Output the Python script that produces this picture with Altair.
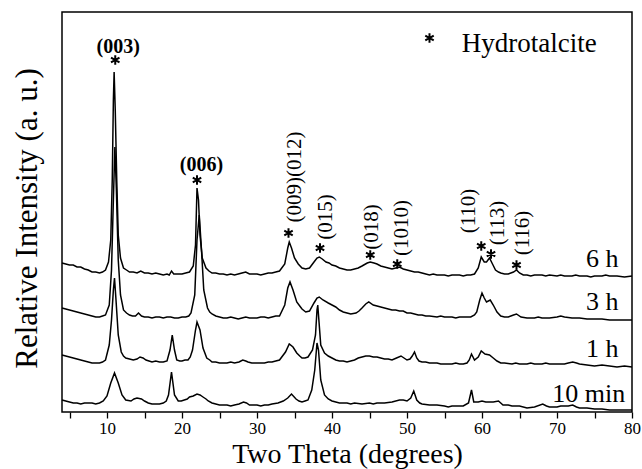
import altair as alt
import pandas as pd

# ---- XRD patterns: (2θ in degrees, relative intensity in a.u.) ----
pattern_6h = [
    (4.0, 15), (4.5, 14), (5.0, 13), (5.5, 13), (6.0, 11), (6.5, 11), (7.0, 9), (7.5, 8), (8.0, 6),
    (8.5, 6), (9.0, 5), (9.4, 6), (9.8, 8), (10.2, 16), (10.5, 38), (10.7, 98), (10.85, 178),
    (10.95, 206), (11.1, 168), (11.3, 98), (11.5, 43), (11.8, 20), (12.2, 10), (12.6, 8), (13.0, 6),
    (13.5, 6), (14.0, 5), (14.5, 7), (15.0, 5), (15.5, 5), (16.0, 4), (16.5, 5), (17.0, 4), (17.5, 3),
    (18.0, 4), (18.3, 3), (18.6, 7), (18.9, 4), (19.5, 4), (20.0, 4), (20.5, 5), (21.0, 6), (21.5, 12),
    (21.8, 33), (22.0, 90), (22.2, 78), (22.4, 43), (22.7, 20), (23.2, 10), (23.6, 7), (24.0, 5),
    (24.5, 5), (25.0, 4), (25.5, 4), (26.0, 3), (26.5, 4), (27.0, 3), (27.5, 4), (28.0, 5), (28.5, 6),
    (29.0, 4), (29.5, 4), (30.0, 4), (30.5, 3), (31.0, 4), (31.5, 5), (32.0, 5), (32.5, 6), (33.0, 7),
    (33.7, 14), (34.1, 30), (34.3, 36), (34.6, 30), (35.0, 20), (35.5, 14), (36.0, 10), (36.5, 9),
    (37.0, 10), (37.6, 16), (38.0, 20), (38.3, 21), (38.7, 19), (39.2, 16), (39.6, 15), (40.0, 13),
    (40.5, 12), (41.0, 10), (41.5, 9), (42.0, 8), (42.5, 8), (43.0, 9), (43.5, 10), (44.0, 12),
    (44.7, 15), (45.1, 16), (45.6, 15), (46.0, 14), (46.5, 12), (47.0, 11), (47.5, 10), (48.0, 9),
    (48.5, 10), (49.0, 11), (49.5, 9), (50.0, 8), (50.5, 7), (51.0, 6), (51.5, 6), (52.0, 5), (52.5, 4),
    (53.0, 3), (53.5, 4), (54.0, 3), (54.5, 3), (55.0, 3), (55.5, 2), (56.0, 3), (56.5, 3), (57.0, 3),
    (57.5, 2), (58.0, 3), (58.5, 3), (59.0, 4), (59.5, 10), (59.9, 21), (60.3, 16), (60.6, 16),
    (61.0, 20), (61.4, 14), (61.8, 8), (62.2, 6), (62.5, 5), (63.0, 4), (63.5, 4), (64.2, 6), (64.6, 8),
    (65.0, 5), (65.5, 3), (66.0, 3), (66.5, 2), (67.0, 3), (68.0, 3), (68.5, 2), (69.0, 3), (70.0, 2),
    (70.5, 3), (71.0, 2), (72.0, 2), (72.5, 3), (73.0, 2), (74.0, 2), (74.5, 1), (75.0, 2), (76.0, 2),
    (76.5, 3), (77.0, 2), (78.0, 2), (79.0, 1), (80.0, 2),
]

pattern_3h = [
    (4.0, 14), (4.5, 13), (5.0, 12), (5.5, 11), (6.0, 10), (6.5, 9), (7.0, 8), (7.5, 7), (8.0, 6),
    (8.5, 5), (9.0, 5), (9.4, 6), (9.8, 7), (10.3, 17), (10.6, 52), (10.85, 122), (11.05, 175),
    (11.25, 132), (11.5, 62), (11.8, 27), (12.2, 12), (12.6, 9), (13.0, 7), (13.4, 6), (13.8, 6),
    (14.2, 9), (14.6, 6), (15.0, 5), (15.5, 5), (16.0, 4), (16.5, 5), (17.0, 5), (17.5, 4), (18.0, 5),
    (18.5, 5), (19.0, 4), (19.5, 4), (20.0, 5), (20.5, 5), (20.9, 6), (21.2, 9), (21.7, 27), (22.0, 82),
    (22.3, 107), (22.6, 72), (22.9, 32), (23.4, 14), (23.7, 10), (24.0, 8), (24.5, 6), (25.0, 5),
    (25.5, 4), (26.0, 4), (26.5, 5), (27.0, 4), (27.5, 3), (28.0, 4), (28.5, 5), (29.0, 4), (29.5, 4),
    (30.0, 4), (30.5, 5), (31.0, 5), (31.5, 4), (32.0, 5), (32.5, 6), (33.0, 6), (33.7, 17), (34.1, 34),
    (34.4, 40), (34.8, 32), (35.3, 20), (35.7, 16), (36.0, 13), (36.5, 10), (37.0, 11), (37.6, 19),
    (38.0, 24), (38.3, 25), (38.8, 22), (39.5, 19), (40.0, 17), (40.5, 15), (41.0, 12), (41.5, 10),
    (42.0, 9), (42.5, 8), (43.2, 9), (43.6, 11), (44.0, 14), (44.5, 18), (44.9, 20), (45.5, 17),
    (46.0, 16), (46.5, 15), (47.0, 14), (47.5, 13), (48.0, 12), (48.5, 12), (49.0, 11), (49.5, 11),
    (50.0, 9), (50.5, 9), (51.0, 8), (51.5, 7), (52.0, 7), (52.5, 6), (53.0, 6), (54.0, 5), (54.5, 6),
    (55.0, 5), (56.0, 5), (56.5, 4), (57.0, 5), (58.0, 5), (58.5, 5), (59.0, 7), (59.3, 10), (59.7, 22),
    (60.0, 29), (60.3, 24), (60.6, 20), (61.1, 22), (61.5, 17), (62.0, 10), (62.5, 6), (63.0, 5),
    (63.5, 5), (64.2, 7), (64.6, 8), (65.2, 5), (66.0, 4), (67.0, 4), (67.5, 5), (68.0, 4), (69.0, 4),
    (70.0, 5), (70.5, 6), (71.0, 5), (72.0, 4), (73.0, 4), (74.0, 3), (75.0, 3), (76.0, 3), (77.0, 2),
    (78.0, 2), (79.0, 2), (80.0, 2),
]

pattern_1h = [
    (4.0, 12), (4.5, 11), (5.0, 10), (5.5, 9), (6.0, 8), (6.5, 7), (7.0, 6), (7.5, 5), (8.0, 4),
    (8.5, 4), (9.0, 4), (9.4, 5), (9.8, 7), (10.3, 22), (10.6, 47), (10.85, 77), (11.0, 89), (11.2, 67),
    (11.5, 32), (11.9, 15), (12.2, 11), (12.5, 9), (13.0, 8), (13.5, 7), (14.0, 8), (14.4, 10),
    (14.8, 9), (15.2, 7), (15.6, 6), (16.0, 5), (16.5, 6), (17.0, 5), (17.5, 5), (18.0, 6), (18.4, 17),
    (18.7, 32), (19.0, 17), (19.3, 7), (19.7, 6), (20.0, 6), (20.4, 7), (20.8, 7), (21.1, 10),
    (21.4, 17), (21.8, 37), (22.0, 45), (22.4, 37), (22.8, 19), (23.3, 9), (23.7, 7), (24.0, 5),
    (24.5, 5), (25.0, 4), (25.5, 4), (26.0, 4), (26.5, 5), (27.0, 4), (27.6, 5), (28.1, 7), (28.5, 6),
    (28.8, 5), (29.3, 4), (30.0, 4), (30.5, 4), (31.0, 4), (31.5, 5), (32.0, 5), (32.5, 6), (33.0, 7),
    (33.8, 15), (34.3, 23), (34.8, 20), (35.3, 14), (35.7, 11), (36.0, 9), (36.4, 9), (36.8, 10),
    (37.4, 17), (37.8, 32), (38.0, 57), (38.1, 62), (38.25, 47), (38.5, 22), (39.0, 14), (39.5, 11),
    (40.0, 9), (40.5, 7), (41.0, 6), (41.5, 6), (42.0, 5), (42.5, 6), (43.0, 7), (43.5, 9), (44.0, 10),
    (44.5, 11), (45.0, 11), (45.5, 10), (46.0, 10), (46.5, 9), (47.0, 8), (47.5, 8), (48.0, 7),
    (48.6, 9), (49.2, 11), (49.6, 9), (50.0, 7), (50.4, 8), (50.7, 11), (51.0, 15), (51.3, 9),
    (51.6, 6), (52.0, 5), (52.5, 5), (53.0, 4), (54.0, 4), (54.5, 3), (55.0, 3), (56.0, 3), (56.5, 4),
    (57.0, 3), (57.5, 3), (58.0, 4), (58.3, 7), (58.6, 13), (59.0, 7), (59.5, 10), (59.9, 16),
    (60.4, 13), (61.0, 12), (61.5, 9), (62.0, 6), (62.5, 4), (63.0, 4), (64.0, 3), (64.5, 4), (65.0, 3),
    (66.0, 3), (66.5, 4), (67.0, 3), (68.0, 3), (68.5, 4), (69.0, 3), (70.0, 3), (71.0, 3), (71.5, 4),
    (72.1, 5), (72.6, 4), (73.0, 3), (74.0, 2), (75.0, 1), (76.0, 2), (77.0, 1), (78.0, 0), (79.0, 1),
    (80.0, 0),
]

pattern_10min = [
    (4.0, 12), (4.5, 11), (5.0, 10), (5.5, 9), (6.0, 9), (6.5, 8), (7.0, 9), (7.5, 9), (8.0, 9),
    (8.5, 8), (9.0, 9), (9.5, 11), (10.0, 16), (10.5, 29), (11.0, 39), (11.5, 29), (12.0, 17),
    (12.5, 12), (13.2, 11), (13.6, 13), (14.0, 14), (14.6, 13), (15.0, 11), (15.5, 9), (16.0, 8),
    (16.5, 8), (17.0, 8), (17.5, 9), (17.9, 11), (18.2, 17), (18.6, 40), (19.0, 17), (19.5, 11),
    (19.9, 11), (20.3, 12), (20.7, 13), (21.0, 15), (21.5, 16), (22.0, 18), (22.4, 17), (22.8, 15),
    (23.2, 13), (23.5, 11), (24.0, 9), (24.5, 8), (25.0, 7), (25.5, 7), (26.0, 7), (26.5, 6), (27.0, 7),
    (27.6, 8), (28.2, 10), (28.6, 9), (29.0, 7), (29.5, 7), (30.0, 7), (30.5, 6), (31.0, 7), (31.5, 7),
    (32.0, 8), (32.8, 9), (33.5, 11), (34.1, 14), (34.6, 18), (35.2, 13), (35.6, 11), (36.0, 10),
    (36.4, 11), (36.8, 12), (37.3, 22), (37.7, 42), (38.0, 69), (38.2, 62), (38.5, 32), (39.0, 17),
    (39.5, 13), (40.0, 11), (40.5, 10), (41.0, 9), (42.0, 9), (42.5, 8), (43.0, 9), (44.0, 8), (45.0, 9),
    (45.5, 8), (46.0, 9), (47.0, 9), (48.0, 10), (49.0, 12), (49.5, 12), (50.0, 11), (50.5, 14),
    (50.9, 21), (51.3, 12), (51.7, 9), (52.0, 8), (53.0, 7), (54.0, 7), (55.0, 6), (55.5, 5), (56.0, 6),
    (57.0, 6), (57.5, 6), (58.2, 9), (58.6, 22), (58.9, 10), (59.5, 10), (60.0, 11), (60.5, 10),
    (61.0, 10), (61.5, 10), (62.2, 11), (62.8, 7), (63.5, 7), (64.0, 6), (65.0, 6), (66.0, 4), (67.0, 5),
    (68.1, 8), (68.6, 6), (69.0, 5), (70.0, 5), (70.5, 6), (71.5, 6), (72.1, 7), (72.6, 5), (73.0, 4),
    (74.0, 4), (75.0, 3), (76.0, 3), (77.0, 2), (78.0, 2), (79.0, 2), (80.0, 2),
]

samples = ["6 h", "3 h", "1 h", "10 min"]
patterns_by_sample = {"6 h": pattern_6h, "3 h": pattern_3h, "1 h": pattern_1h, "10 min": pattern_10min}
# vertical stacking of the patterns (a.u.)
stack_offset = {"6 h": 134, "3 h": 90, "1 h": 45, "10 min": 0}

rows = []
for name in samples:
    for i, (x, y) in enumerate(patterns_by_sample[name]):
        rows.append({"sample": name, "two_theta": x, "intensity": y, "order": i,
                     "stacked": y + stack_offset[name]})
df = pd.DataFrame(rows)

# ---- Hydrotalcite reflections ----
peak_labels = ["(003)", "(006)", "(009)(012)", "(015)", "(018)", "(1010)", "(110)", "(113)", "(116)"]
peak_theta = [11.1, 22.0, 34.2, 38.4, 45.1, 48.7, 59.9, 61.2, 64.6]
star_level = [352, 232, 179, 164, 157, 148, 166, 158, 147]
label_theta = [11.5, 22.6, 35.0, 39.25, 45.3, 49.3, 58.3, 62.1, 65.4]
label_level = [365, 247, 235, 195, 185, 184, 201, 189, 179]
label_angle = [0, 0, 270, 270, 270, 270, 270, 270, 270]

stars = pd.DataFrame({"two_theta": peak_theta, "level": star_level})
labels = pd.DataFrame({"two_theta": label_theta, "level": label_level,
                       "text": peak_labels, "angle": label_angle})

# sample names at the right end of each pattern
sample_label_theta = [78.2, 78.2, 78.2, 79.1]
sample_label_level = [145, 102, 55, 10]
sample_labels = pd.DataFrame({"two_theta": sample_label_theta, "level": sample_label_level,
                              "text": samples})

legend_star = pd.DataFrame({"two_theta": [53.0], "level": [374]})
legend_text = pd.DataFrame({"two_theta": [57.3], "level": [360], "text": ["Hydrotalcite"]})

# x-axis: ticks every 5 degrees, numbers every 10
tick_values = list(range(5, 81, 5))

SERIF = "Liberation Serif"
ASTERISK = "M0,-1L0,1M-0.87,-0.5L0.87,0.5M-0.87,0.5L0.87,-0.5"

x_scale = alt.Scale(domain=[4, 80], nice=False, zero=False)
y_scale = alt.Scale(domain=[0, 400], nice=False, zero=False)

x_axis = alt.Axis(
    values=tick_values,
    labelExpr="(datum.value % 10 == 0) ? format(datum.value, 'd') : ''",
    labelOverlap=False,
    tickSize=6, tickColor="black", tickWidth=1.3,
    domain=False, grid=False, labelFlush=False,
    labelFont=SERIF, labelFontSize=17, labelColor="black", labelPadding=2,
    title="Two Theta (degrees)", titleFont=SERIF, titleFontSize=28,
    titleFontWeight="normal", titleColor="black",
    titleX=285, titleY=50, titleAlign="center", titleBaseline="alphabetic",
)
y_axis = alt.Axis(
    labels=False, ticks=False, domain=False, grid=False,
    title="Relative Intensity (a. u.)", titleFont=SERIF, titleFontSize=31,
    titleFontWeight="normal", titleColor="black",
    titleX=-35, titleY=206, titleAlign="center", titleBaseline="middle", titleAngle=270,
)

X = alt.X("two_theta:Q", scale=x_scale, axis=x_axis)
Y = alt.Y("stacked:Q", scale=y_scale, axis=y_axis)
Xa = alt.X("two_theta:Q", scale=x_scale, axis=x_axis)
Ya = alt.Y("level:Q", scale=y_scale, axis=y_axis)

patterns = alt.Chart(df).mark_line(color="black", strokeWidth=1.5, interpolate="linear").encode(
    x=X, y=Y, detail="sample:N", order="order:Q"
)

star_marks = alt.Chart(stars).mark_point(
    shape=ASTERISK, size=95, stroke="black", strokeWidth=2, filled=False, opacity=1
).encode(x=Xa, y=Ya)

flat_labels = alt.Chart(labels).transform_filter("datum.angle == 0").mark_text(
    font=SERIF, fontSize=20, fontWeight="bold", color="black", align="center", baseline="middle"
).encode(x=Xa, y=Ya, text="text:N")

upright_labels = alt.Chart(labels).transform_filter("datum.angle != 0").mark_text(
    font=SERIF, fontSize=21, color="black", align="center", baseline="middle", angle=270
).encode(x=Xa, y=Ya, text="text:N")

sample_text = alt.Chart(sample_labels).mark_text(
    font=SERIF, fontSize=26, color="black", align="right", baseline="alphabetic"
).encode(x=Xa, y=Ya, text="text:N")

legend_mark = alt.Chart(legend_star).mark_point(
    shape=ASTERISK, size=95, stroke="black", strokeWidth=2, filled=False, opacity=1
).encode(x=Xa, y=Ya)

legend_label = alt.Chart(legend_text).mark_text(
    font=SERIF, fontSize=27, color="black", align="left", baseline="alphabetic"
).encode(x=Xa, y=Ya, text="text:N")

chart = alt.layer(
    patterns, star_marks, flat_labels, upright_labels, sample_text, legend_mark, legend_label
).properties(
    width=570, height=400,
    autosize=alt.AutoSizeParams(type="none"),
    padding={"left": 62, "top": 12, "right": 10, "bottom": 57},
    background="white",
).configure(
    font=SERIF
).configure_view(
    stroke="black", strokeWidth=1.5
)

chart.save("out.html", embed_options={"renderer": "svg", "actions": False})
